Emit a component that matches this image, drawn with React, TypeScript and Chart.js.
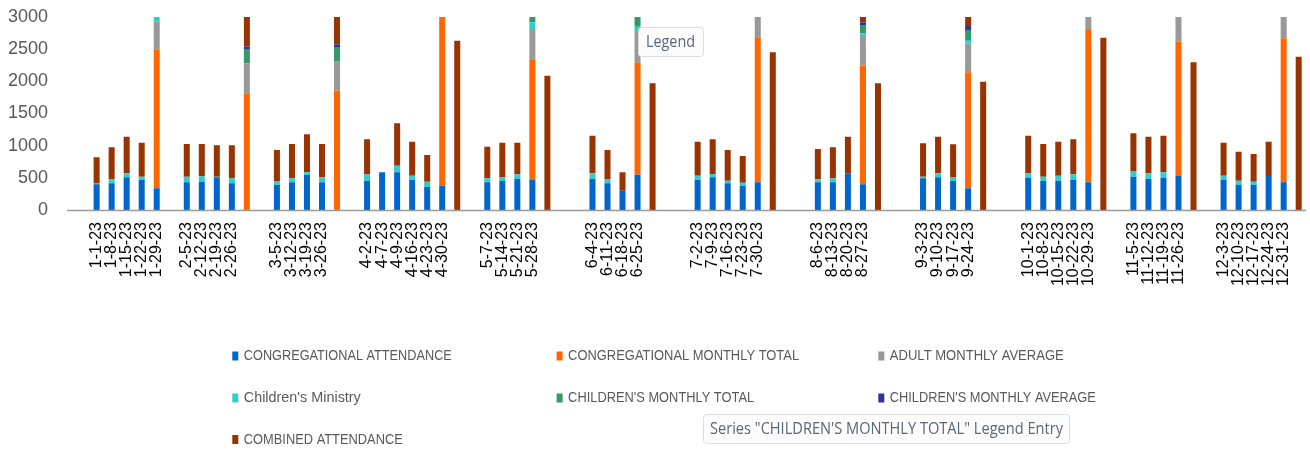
import React, { useEffect, useRef } from "react";
import { Chart, registerables } from "chart.js";

Chart.register(...registerables);

const N = null;

// Category slots (empty strings are the unlabeled slots / gaps of the original sheet)
const categories: string[] = [
  "1-1-23", "1-8-23", "1-15-23", "1-22-23", "1-29-23", "",
  "2-5-23", "2-12-23", "2-19-23", "2-26-23", "", "",
  "3-5-23", "3-12-23", "3-19-23", "3-26-23", "", "",
  "4-2-23", "4-7-23", "4-9-23", "4-16-23", "4-23-23", "4-30-23", "", "",
  "5-7-23", "5-14-23", "5-21-23", "5-28-23", "", "", "",
  "6-4-23", "6-11-23", "6-18-23", "6-25-23", "", "", "",
  "7-2-23", "7-9-23", "7-16-23", "7-23-23", "7-30-23", "", "", "",
  "8-6-23", "8-13-23", "8-20-23", "8-27-23", "", "", "",
  "9-3-23", "9-10-23", "9-17-23", "9-24-23", "", "", "",
  "10-1-23", "10-8-23", "10-15-23", "10-22-23", "10-29-23", "", "",
  "11-5-23", "11-12-23", "11-19-23", "11-26-23", "", "",
  "12-3-23", "12-10-23", "12-17-23", "12-24-23", "12-31-23", "",
];

const congregationalAttendance = [
  400, 415, 510, 465, 340, N,
  430, 435, 508, 414, N, N,
  390, 430, 545, 430, N, N,
  450, 585, 585, 465, 357, 378, N, N,
  430, 450, 482, 466, N, N, N,
  482, 414, 300, 549, N, N, N,
  466, 508, 414, 378, 430, N, N, N,
  430, 430, 570, 399, N, N, N,
  492, 508, 451, 337, N, N, N,
  503, 451, 451, 466, 430, N, N,
  518, 482, 503, 528, N, N,
  466, 389, 389, 528, 430, N,
];

const congregationalMonthlyTotal = [
  N, N, N, N, 2160, N,
  N, N, N, N, 1815, N,
  N, N, N, N, 1855, N,
  N, N, N, N, N, 2700, N, N,
  N, N, N, 1876, N, N, N,
  N, N, N, 1741, N, N, N,
  N, N, N, N, 2254, N, N, N,
  N, N, N, 1844, N, N, N,
  N, N, N, 1803, N, N, N,
  N, N, N, N, 2368, N, N,
  N, N, N, 2088, N, N,
  N, N, N, N, 2238, N,
];

const adultMonthlyAverage = [
  N, N, N, N, 430, N,
  N, N, N, N, 467, N,
  N, N, N, N, 461, N,
  N, N, N, N, N, 450, N, N,
  N, N, N, 471, N, N, N,
  N, N, N, 477, N, N, N,
  N, N, N, N, 400, N, N, N,
  N, N, N, 461, N, N, N,
  N, N, N, 450, N, N, N,
  N, N, N, N, 400, N, N,
  N, N, N, 450, N, N,
  N, N, N, N, 450, N,
];

const childrensMinistry = [
  20, 62, 60, 52, 80, N,
  88, 88, 10, 78, N, N,
  62, 62, 41, 78, N, N,
  103, N, 104, 68, 83, 60, N, N,
  62, 57, 72, 104, N, N, N,
  88, 68, N, 80, N, N, N,
  68, 52, 42, 47, 50, N, N, N,
  47, 62, N, 42, N, N, N,
  26, 62, 62, 52, N, N, N,
  67, 67, 83, 88, 60, N, N,
  88, 88, 82, 60, N, N,
  68, 67, 51, N, 60, N,
];

const childrensMonthlyTotal = [
  N, N, N, N, N, N,
  N, N, N, N, 207, N,
  N, N, N, N, 207, N,
  N, N, N, N, N, N, N, N,
  N, N, N, 200, N, N, N,
  N, N, N, 200, N, N, N,
  N, N, N, N, N, N, N, N,
  N, N, N, 129, N, N, N,
  N, N, N, 156, N, N, N,
  N, N, N, N, N, N, N,
  N, N, N, N, N, N,
  N, N, N, N, N, N,
];

const childrensMonthlyAverage = [
  N, N, N, N, N, N,
  N, N, N, N, 52, N,
  N, N, N, N, 52, N,
  N, N, N, N, N, N, N, N,
  N, N, N, N, N, N, N,
  N, N, N, N, N, N, N,
  N, N, N, N, N, N, N, N,
  N, N, N, 42, N, N, N,
  N, N, N, 62, N, N, N,
  N, N, N, N, N, N, N,
  N, N, N, N, N, N,
  N, N, N, N, N, N,
];

const combinedAttendance = [
  400, 497, 570, 530, 420, N,
  508, 503, 487, 513, 520, N,
  481, 534, 590, 518, 520, N,
  545, N, 658, 529, 415, 440, 2632, N,
  492, 540, 493, 570, 2088, N, N,
  585, 451, 285, 630, 1969, N, N,
  528, 538, 477, 414, 480, 2451, N, N,
  471, 482, 570, 440, 1969, N, N,
  518, 570, 508, 390, 1995, N, N,
  585, 508, 528, 544, 490, 2679, N,
  586, 570, 570, 590, 2295, N,
  513, 451, 430, 534, 490, 2383,
];

const seriesNames = [
  "CONGREGATIONAL ATTENDANCE",
  "CONGREGATIONAL MONTHLY TOTAL",
  "ADULT MONTHLY AVERAGE",
  "Children's Ministry",
  "CHILDREN'S MONTHLY TOTAL",
  "CHILDREN'S MONTHLY AVERAGE",
  "COMBINED ATTENDANCE",
];

const seriesColors = ["#0066CC", "#FF6600", "#999999", "#33CCCC", "#339966", "#333399", "#993300"];

const yTicks = [0, 500, 1000, 1500, 2000, 2500, 3000];

// layout constants (pixels)
const CANVAS_W = 1330;
const CANVAS_H = 450;
const PLOT_LEFT = 89.1;
const PLOT_RIGHT = 1314.3;
const PLOT_TOP = 17;
const PLOT_BOTTOM = 210;
const AXIS_LINE_START = 67;
const Y_LABEL_RIGHT = 48;

const legendCols = [232.3, 556.6, 878.3];
const legendRows = [356, 398, 439.5];
const legendTextWidths = [208, 231, 174, 117, 186, 206, 159];

function fitText(ctx: CanvasRenderingContext2D, text: string, x: number, y: number, w: number) {
  const mw = ctx.measureText(text).width;
  const k = mw > 0 ? w / mw : 1;
  ctx.save();
  ctx.translate(x, y);
  ctx.scale(k, 1);
  ctx.fillText(text, 0, 0);
  ctx.restore();
}

function drawBubble(ctx: CanvasRenderingContext2D, x: number, y: number, w: number, h: number, text: string, tx: number, tw: number) {
  ctx.save();
  ctx.beginPath();
  (ctx as any).roundRect(x + 0.5, y + 0.5, w, h, 3);
  ctx.fillStyle = "#fcfcfc";
  ctx.fill();
  ctx.strokeStyle = "#dedede";
  ctx.lineWidth = 1;
  ctx.stroke();
  ctx.fillStyle = "#5d6673";
  ctx.font = "16px 'Open Sans', 'Liberation Sans', sans-serif";
  ctx.textBaseline = "middle";
  ctx.textAlign = "left";
  fitText(ctx, text, tx, y + h / 2 + 1, tw);
  ctx.restore();
}

const overlayPlugin = {
  id: "overlay",
  afterDatasetsDraw(chart: any) {
    const ctx: CanvasRenderingContext2D = chart.ctx;
    const area = chart.chartArea;
    // category axis line
    ctx.save();
    ctx.strokeStyle = "#9a9a9a";
    ctx.lineWidth = 1.3;
    ctx.beginPath();
    ctx.moveTo(AXIS_LINE_START, area.bottom + 0.5);
    ctx.lineTo(area.right, area.bottom + 0.5);
    ctx.stroke();
    ctx.restore();
  },
  afterDraw(chart: any) {
    const ctx: CanvasRenderingContext2D = chart.ctx;
    ctx.save();
    ctx.font = "14px 'Liberation Sans Narrow', 'Liberation Sans', sans-serif";
    ctx.textBaseline = "middle";
    ctx.textAlign = "left";
    chart.data.datasets.forEach((ds: any, i: number) => {
      const cx = legendCols[i % 3];
      const cy = legendRows[Math.floor(i / 3)];
      ctx.fillStyle = ds.backgroundColor;
      ctx.fillRect(cx, cy - 4.5, 6, 9);
      ctx.fillStyle = "#595959";
      fitText(ctx, ds.label, cx + 11.5, cy + 0.5, legendTextWidths[i]);
    });
    ctx.restore();
    drawBubble(ctx, 638, 27, 65, 29, "Legend", 646, 49);
    drawBubble(ctx, 703, 414, 366, 29, "Series \"CHILDREN'S MONTHLY TOTAL\" Legend Entry", 710, 353);
  },
};

export default function App() {
  const ref = useRef<HTMLCanvasElement | null>(null);

  useEffect(() => {
    if (!ref.current) return;
    const seriesData = [
      congregationalAttendance,
      congregationalMonthlyTotal,
      adultMonthlyAverage,
      childrensMinistry,
      childrensMonthlyTotal,
      childrensMonthlyAverage,
      combinedAttendance,
    ];
    const chart = new Chart(ref.current, {
      type: "bar",
      data: {
        labels: categories,
        datasets: seriesData.map((d, i) => ({
          label: seriesNames[i],
          data: d,
          backgroundColor: seriesColors[i],
          borderWidth: 0,
          barPercentage: 0.4,
          categoryPercentage: 1,
          clip: 0,
        })),
      },
      options: {
        responsive: false,
        animation: false,
        events: [],
        layout: {
          padding: { top: PLOT_TOP, right: CANVAS_W - PLOT_RIGHT, bottom: 0, left: 0 },
        },
        plugins: {
          legend: { display: false },
          tooltip: { enabled: false },
        },
        scales: {
          x: {
            stacked: true,
            grid: { display: false, drawTicks: false },
            border: { display: false },
            ticks: {
              autoSkip: false,
              minRotation: 90,
              maxRotation: 90,
              padding: 12,
              color: "#000000",
              font: { family: "'Liberation Sans', Arial, sans-serif", size: 16 },
            },
            afterFit: (s: any) => {
              s.height = CANVAS_H - PLOT_BOTTOM;
            },
          },
          y: {
            stacked: true,
            min: 0,
            max: 3000,
            grid: { display: false, drawTicks: true, tickLength: PLOT_LEFT - Y_LABEL_RIGHT },
            border: { display: false },
            afterBuildTicks: (s: any) => {
              s.ticks = yTicks.map((v) => ({ value: v }));
            },
            ticks: {
              padding: 0,
              color: "#595959",
              font: { family: "'Liberation Sans', Arial, sans-serif", size: 18 },
              callback: (v: any) => String(v),
            },
            afterFit: (s: any) => {
              s.width = PLOT_LEFT;
            },
          },
        },
      },
      plugins: [overlayPlugin],
    } as any);
    return () => chart.destroy();
  }, []);

  return (
    <div
      style={{
        position: "fixed",
        left: 0,
        top: 0,
        width: 1310,
        height: CANVAS_H,
        overflow: "hidden",
        background: "#ffffff",
      }}
    >
      <canvas ref={ref} width={CANVAS_W} height={CANVAS_H} style={{ display: "block", width: CANVAS_W, height: CANVAS_H }} />
    </div>
  );
}
